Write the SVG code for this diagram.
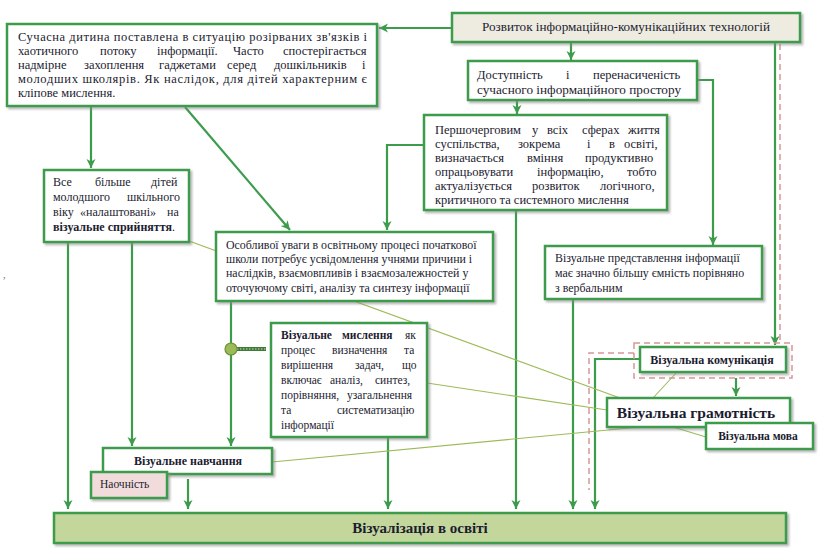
<svg xmlns="http://www.w3.org/2000/svg" width="820" height="555" viewBox="0 0 820 555">
<defs>
<filter id="sh" x="-5%" y="-5%" width="115%" height="125%"><feDropShadow dx="2" dy="2" stdDeviation="0.8" flood-color="#888" flood-opacity="0.6"/></filter>
<marker id="ah" markerWidth="10" markerHeight="10" refX="9" refY="5" orient="auto" markerUnits="userSpaceOnUse"><path d="M0,0.5 L9,5 L0,9.5 L2.5,5 z" fill="#3c9c4c"/></marker>
</defs>
<style>
.bx{fill:#fff;stroke:#3c9c4c;stroke-width:2.5;filter:url(#sh)}
.c{fill:none;stroke:#3c9c4c;stroke-width:2.2}
.thin{fill:none;stroke:#9bbb59;stroke-width:1.1}
.dash{fill:none;stroke:#d99694;stroke-width:1.5;stroke-dasharray:6 4}
.t{font-family:"Liberation Serif","DejaVu Serif",serif;font-size:12.5px;fill:#1c1c30}
.s{font-size:11.5px}
.m{font-size:11.9px}
.b{font-weight:bold}
</style>
<rect x="0" y="0" width="820" height="555" fill="#fff"/>

<g id="connectors">
<line class="c" x1="452" y1="28" x2="379" y2="28" marker-end="url(#ah)"/>
<line class="c" x1="571" y1="42" x2="571" y2="60" marker-end="url(#ah)"/>
<line class="c" x1="517" y1="100" x2="517" y2="114" marker-end="url(#ah)"/>
<path class="c" d="M697,80 H713 V245" marker-end="url(#ah)"/>
<path class="c" d="M424,145 H387 V230" marker-end="url(#ah)"/>
<line class="c" x1="91" y1="107" x2="91" y2="168" marker-end="url(#ah)"/>
<line class="c" x1="185" y1="107" x2="290" y2="230" marker-end="url(#ah)"/>
<line class="c" x1="68" y1="242" x2="68" y2="509" marker-end="url(#ah)"/>
<line class="c" x1="132" y1="242" x2="132" y2="446" marker-end="url(#ah)"/>
<line class="c" x1="231" y1="302" x2="231" y2="446" marker-end="url(#ah)"/>
<line x1="237" y1="349" x2="266" y2="349" stroke="#3f7a3a" stroke-width="4"/>
<line x1="237" y1="349" x2="266" y2="349" stroke="#cfe3b0" stroke-width="1" stroke-dasharray="1.5 1.5"/>
<circle cx="231" cy="349" r="6" fill="#9bbb59" stroke="#6f8f3a" stroke-width="1.2"/>
<line class="c" x1="188" y1="479" x2="188" y2="509" marker-end="url(#ah)"/>
<line class="c" x1="388" y1="437" x2="388" y2="509" marker-end="url(#ah)"/>
<line class="c" x1="516" y1="210" x2="516" y2="509" marker-end="url(#ah)"/>
<line class="c" x1="573" y1="299" x2="573" y2="509" marker-end="url(#ah)"/>
<path class="c" d="M640,359 H595 V509" marker-end="url(#ah)"/>
<line class="c" x1="775" y1="43" x2="775" y2="345" marker-end="url(#ah)"/>
<line class="c" x1="736" y1="378" x2="736" y2="396" marker-end="url(#ah)"/>
<line class="dash" x1="780" y1="44" x2="780" y2="343"/>
<rect class="dash" x="634" y="343" width="158" height="35"/>
<path class="dash" d="M634,353 H589 V490"/>
<line class="thin" x1="189" y1="241" x2="620" y2="398"/>
<line class="thin" x1="427" y1="383" x2="607" y2="410"/>
<line class="thin" x1="272" y1="462" x2="640" y2="427"/>
<line class="thin" x1="673" y1="427" x2="706" y2="437"/>
<line class="thin" x1="677" y1="372" x2="653" y2="398"/>
</g>

<g id="n-child">
<rect class="bx" x="7" y="24" width="370" height="82"/>
<text class="t" x="18" y="41" textLength="349" lengthAdjust="spacing">Сучасна дитина поставлена в ситуацію розірваних зв'язків і</text>
<text class="t" y="55"><tspan x="18">хаотичного</tspan> <tspan x="100">потоку</tspan> <tspan x="157">інформації.</tspan> <tspan x="233">Часто</tspan> <tspan x="283">спостерігається</tspan></text>
<text class="t" y="69"><tspan x="18">надмірне</tspan> <tspan x="84">захоплення</tspan> <tspan x="159">гаджетами</tspan> <tspan x="227">серед</tspan> <tspan x="274">дошкільників</tspan> <tspan x="362">і</tspan></text>
<text class="t" x="18" y="83" textLength="349" lengthAdjust="spacing">молодших школярів. Як наслідок, для дітей характерним є</text>
<text class="t" x="18" y="97">кліпове мислення.</text>
</g>

<g id="n-ict">
<rect class="bx" x="452" y="13" width="348" height="29" style="fill:#eeece1"/>
<text class="t" x="482" y="31" textLength="288" lengthAdjust="spacingAndGlyphs" style="font-size:13px">Розвиток інформаційно-комунікаційних технологій</text>
</g>

<g id="n-access">
<rect class="bx" x="468" y="61" width="229" height="39"/>
<text class="t" y="79"><tspan x="477">Доступність</tspan> <tspan x="566">і</tspan> <tspan x="593">перенасиченість</tspan></text>
<text class="t" x="477" y="94" textLength="204" lengthAdjust="spacingAndGlyphs">сучасного інформаційного простору</text>
</g>

<g id="n-priority">
<rect class="bx" x="424" y="115" width="243" height="95"/>
<text class="t" y="134"><tspan x="435">Першочерговим</tspan> <tspan x="532">у</tspan> <tspan x="547">всіх</tspan> <tspan x="582">сферах</tspan> <tspan x="628">життя</tspan></text>
<text class="t" y="148"><tspan x="435">суспільства,</tspan> <tspan x="518">зокрема</tspan> <tspan x="587">і</tspan> <tspan x="609">в</tspan> <tspan x="624">освіті,</tspan></text>
<text class="t" y="162"><tspan x="435">визначається</tspan> <tspan x="527">вміння</tspan> <tspan x="585">продуктивно</tspan></text>
<text class="t" y="176"><tspan x="435">опрацьовувати</tspan> <tspan x="537">інформацію,</tspan> <tspan x="627">тобто</tspan></text>
<text class="t" y="190"><tspan x="435">актуалізується</tspan> <tspan x="532">розвиток</tspan> <tspan x="600">логічного,</tspan></text>
<text class="t" x="435" y="204">критичного та системного мислення</text>
</g>

<g id="n-more">
<rect class="bx" x="44" y="170" width="145" height="72"/>
<text class="t" y="186" style="font-size:12px"><tspan x="53">Все</tspan> <tspan x="95">більше</tspan> <tspan x="151">дітей</tspan></text>
<text class="t" y="201" style="font-size:12px"><tspan x="53">молодшого</tspan> <tspan x="127">шкільного</tspan></text>
<text class="t" y="216" style="font-size:12px"><tspan x="53">віку</tspan> <tspan x="80">«налаштовані»</tspan> <tspan x="167">на</tspan></text>
<text class="t" x="53" y="231" style="font-size:12px"><tspan class="b">візуальне сприйняття</tspan>.</text>
</g>

<g id="n-attention">
<rect class="bx" x="216" y="232" width="277" height="69"/>
<text class="t m" x="226" y="249">Особливої уваги в освітньому процесі початкової</text>
<text class="t m" x="226" y="263">школи потребує усвідомлення учнями причини і</text>
<text class="t m" x="226" y="277">наслідків, взаємовпливів і взаємозалежностей у</text>
<text class="t m" x="226" y="292">оточуючому світі, аналізу та синтезу інформації</text>
</g>

<g id="n-visrep">
<rect class="bx" x="545" y="246" width="217" height="53"/>
<text class="t m" x="555" y="262">Візуальне представлення інформації</text>
<text class="t m" x="555" y="277">має значно більшу ємність порівняно</text>
<text class="t m" x="555" y="292">з вербальним</text>
</g>

<g id="n-thinking">
<rect class="bx" x="271" y="323" width="156" height="114"/>
<text class="t s" y="339"><tspan x="281" class="b">Візуальне</tspan> <tspan x="342" class="b">мислення</tspan> <tspan x="405">як</tspan></text>
<text class="t s" y="354"><tspan x="281">процес</tspan> <tspan x="332">визначення</tspan> <tspan x="404">та</tspan></text>
<text class="t s" y="369"><tspan x="281">вирішення</tspan> <tspan x="355">задач,</tspan> <tspan x="402">що</tspan></text>
<text class="t s" y="384"><tspan x="281">включає</tspan> <tspan x="330">аналіз,</tspan> <tspan x="375">синтез,</tspan></text>
<text class="t s" y="399"><tspan x="281">порівняння,</tspan> <tspan x="347">узагальнення</tspan></text>
<text class="t s" y="414"><tspan x="281">та</tspan> <tspan x="337">систематизацію</tspan></text>
<text class="t s" x="281" y="429">інформації</text>
</g>

<g id="n-comm">
<rect class="bx" x="640" y="347" width="146" height="25"/>
<text class="t b" x="712" y="364" text-anchor="middle" style="font-size:12px">Візуальна комунікація</text>
</g>

<g id="n-literacy">
<rect class="bx" x="607" y="398" width="183" height="29"/>
<text class="t b" x="696" y="418" text-anchor="middle" style="font-size:15.5px">Візуальна грамотність</text>
</g>

<g id="n-language">
<rect class="bx" x="706" y="423" width="107" height="26"/>
<text class="t b" x="758" y="440" text-anchor="middle" style="font-size:11.5px">Візуальна мова</text>
</g>

<g id="n-learning">
<rect class="bx" x="103" y="448" width="169" height="26"/>
<text class="t b" x="188" y="465" text-anchor="middle" style="font-size:12px">Візуальне навчання</text>
</g>

<g id="n-clarity">
<rect class="bx" x="91" y="472" width="76" height="26" style="fill:#f2dcdb"/>
<text class="t s" x="100" y="488">Наочність</text>
</g>

<g id="n-edu">
<rect class="bx" x="54" y="513" width="732" height="30" style="fill:#c3d69b"/>
<text class="t b" x="420" y="533" text-anchor="middle" style="font-size:15px">Візуалізація в освіті</text>
</g>

<text class="t" x="3" y="278" style="font-size:10px;fill:#5a6a9a">,</text>
</svg>
